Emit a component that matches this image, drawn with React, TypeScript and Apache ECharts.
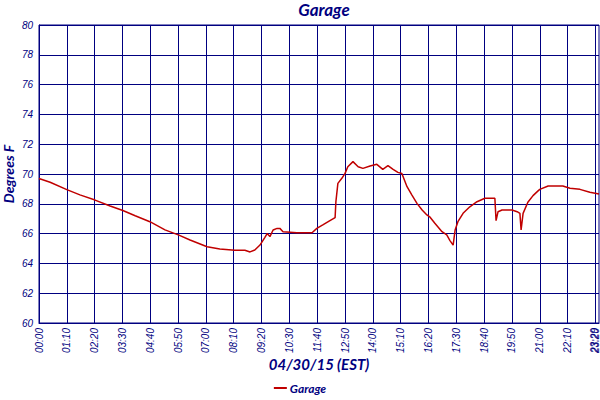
import { useEffect, useRef } from 'react'
import * as echarts from 'echarts'

// minutes after midnight
const minutes = [
  0, 28, 70, 103, 141, 179, 211, 242, 279, 317, 352, 380, 423, 455, 493, 518, 531, 543, 556, 568,
  574, 581, 589, 599, 606, 614, 649, 687, 699, 714, 732, 745, 747, 752, 762, 770, 777, 790, 803,
  815, 833, 850, 865, 878, 891, 903, 913, 926, 938, 951, 964, 976, 984, 996, 1014, 1026, 1034,
  1042, 1047, 1054, 1067, 1084, 1102, 1122, 1147, 1150, 1155, 1165, 1190, 1203, 1210, 1213, 1218,
  1230, 1243, 1255, 1260, 1281, 1318, 1336, 1361, 1386, 1409,
]

const garage = [
  69.7, 69.45, 68.95, 68.6, 68.25, 67.85, 67.55, 67.2, 66.8, 66.25, 65.9, 65.57, 65.12, 64.97,
  64.88, 64.88, 64.77, 64.9, 65.23, 65.73, 66.0, 65.8, 66.24, 66.35, 66.35, 66.13, 66.06, 66.06,
  66.35, 66.58, 66.87, 67.07, 68.14, 69.37, 69.71, 70.04, 70.49, 70.83, 70.49, 70.38, 70.54, 70.65,
  70.31, 70.56, 70.31, 70.11, 70.04, 69.15, 68.6, 68.03, 67.58, 67.25, 67.1, 66.69, 66.13, 65.91,
  65.53, 65.23, 66.24, 66.8, 67.36, 67.8, 68.14, 68.37, 68.37, 66.87, 67.47, 67.58, 67.58, 67.47,
  67.36, 66.24, 67.36, 68.1, 68.55, 68.85, 68.97, 69.19, 69.19, 69.04, 68.97, 68.77, 68.66,
]

const xTicks = [0, 70, 140, 210, 280, 350, 420, 490, 560, 630, 700, 770, 840, 910, 980, 1050, 1120, 1190, 1260, 1330, 1400]
const xTickLabels = [
  '00:00', '01:10', '02:20', '03:30', '04:40', '05:50', '07:00', '08:10', '09:20', '10:30', '11:40',
  '12:50', '14:00', '15:10', '16:20', '17:30', '18:40', '19:50', '21:00', '22:10', '23:20',
]
// the last reading's time, labelled on its own (it sits right on top of 23:20)
const xEnd = 1409
const xEndLabel = '23:29'

const navy = '#000080'
const tickFont = { fontFamily: 'Liberation Sans', fontStyle: 'italic' as const, fontSize: 10, color: navy }
const nameFont = { fontFamily: 'Lato', fontStyle: 'italic' as const, fontWeight: 'bold' as const, color: navy }

export default function App() {
  const chartRef = useRef<HTMLDivElement | null>(null)

  useEffect(() => {
    if (!chartRef.current) {
      return
    }
    document.body.style.margin = '0'

    const chart = echarts.init(chartRef.current, undefined, { renderer: 'svg' })

    chart.setOption({
      animation: false,
      title: {
        text: 'Garage',
        left: 319,
        top: -4,
        textAlign: 'center',
        textStyle: { ...nameFont, fontSize: 17 },
      },
      legend: {
        bottom: 1,
        left: 'center',
        icon: 'rect',
        itemWidth: 13,
        itemHeight: 2,
        itemGap: 4,
        textStyle: { ...nameFont, fontSize: 12, padding: [0, 0, 0, -2] },
        data: ['Garage'],
      },
      grid: {
        left: 39,
        right: 1,
        top: 25,
        bottom: 77,
        show: true,
        borderColor: navy,
        borderWidth: 1,
        outerBoundsMode: 'none',
        containLabel: false,
      },
      xAxis: [
        {
          type: 'value',
          min: 0,
          max: xEnd,
          interval: 70,
          name: '04/30/15 (EST)',
          nameLocation: 'middle',
          nameGap: 33,
          nameMoveOverlap: false,
          nameTextStyle: { ...nameFont, fontSize: 15 },
          axisLine: { lineStyle: { color: navy } },
          axisTick: { show: false, customValues: xTicks },
          axisLabel: {
            ...tickFont,
            rotate: 90,
            margin: 5,
            hideOverlap: false,
            customValues: xTicks,
            formatter: (v: number) => xTickLabels[xTicks.indexOf(v)] ?? '',
          },
          splitLine: { show: true, lineStyle: { color: navy, width: 1 } },
        },
        {
          type: 'value',
          position: 'bottom',
          min: 0,
          max: xEnd,
          axisLine: { show: false },
          axisTick: { show: false, customValues: [xEnd] },
          axisLabel: {
            ...tickFont,
            rotate: 90,
            margin: 5,
            verticalAlign: 'bottom',
            customValues: [xEnd],
            formatter: () => xEndLabel,
          },
          splitLine: { show: false },
        },
      ],
      yAxis: {
        type: 'value',
        min: 60,
        max: 80,
        interval: 2,
        name: 'Degrees F',
        nameLocation: 'middle',
        nameGap: 24,
        nameMoveOverlap: false,
        nameTextStyle: { ...nameFont, fontSize: 14 },
        axisLine: { show: true, lineStyle: { color: navy } },
        axisTick: { show: false },
        axisLabel: { ...tickFont, margin: 6 },
        splitLine: { show: true, lineStyle: { color: navy, width: 1 } },
      },
      series: [
        {
          name: 'Garage',
          type: 'line',
          xAxisIndex: 0,
          data: minutes.map((m, i) => [m, garage[i]]),
          showSymbol: false,
          lineStyle: { color: '#c00000', width: 1.5 },
          itemStyle: { color: '#c00000' },
        },
      ],
    })

    return () => {
      chart.dispose()
    }
  }, [])

  return <div ref={chartRef} style={{ width: 600, height: 400 }} />
}
